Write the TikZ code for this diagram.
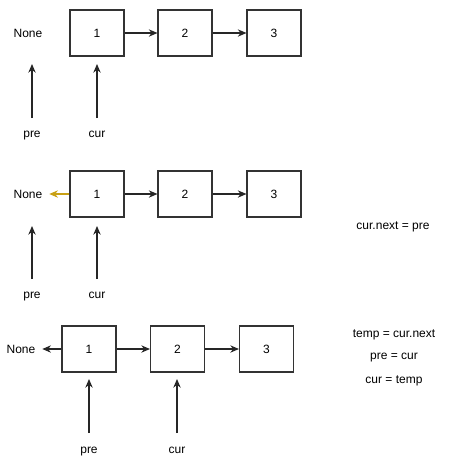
\documentclass[tikz,border=0pt]{standalone}
\usepackage{fontspec}
\setmainfont{Liberation Sans}
\usetikzlibrary{arrows.meta}
\definecolor{gold}{RGB}{200,160,20}
\begin{document}
\begin{tikzpicture}[x=0.75pt,y=-0.75pt,
  box/.style={draw=black!80,line width=0.8pt,minimum width=40.5pt,minimum height=34.5pt,inner sep=0pt,font=\fontsize{9}{11}\selectfont},
  lbl/.style={inner sep=0pt,text height=6.5pt,text depth=0pt,font=\fontsize{9}{11}\selectfont},
  arr/.style={-{Stealth[length=6.5pt,width=5.5pt]},line width=0.8pt,draw=black!85}]
\useasboundingbox (0,0) rectangle (470,462);
% row 1
\node[box] (a1) at (97,33) {1};
\node[box] (a2) at (185,33) {2};
\node[box] (a3) at (274,33) {3};
\node[lbl] (an) at (28,33) {None};
\node[lbl] (ap) at (32,133) {pre};
\node[lbl] (ac) at (97,133) {cur};
\coordinate (apt) at (32,64);
\coordinate (act) at (97,64);
\draw[arr] (a1) -- (a2);
\draw[arr] (a2) -- (a3);
\draw[arr] (32,118) -- (apt);
\draw[arr] (97,118) -- (act);
% row 2
\node[box] (b1) at (97,194) {1};
\node[box] (b2) at (185,194) {2};
\node[box] (b3) at (274,194) {3};
\node[lbl] (bn) at (28,194) {None};
\node[lbl] (bp) at (32,294) {pre};
\node[lbl] (bc) at (97,294) {cur};
\coordinate (bpt) at (32,226);
\coordinate (bct) at (97,226);
\draw[arr] (b1) -- (b2);
\draw[arr] (b2) -- (b3);
\draw[arr,draw=gold] (b1.west) -- ([xshift=5]bn.east);
\draw[arr] (32,279) -- (bpt);
\draw[arr] (97,279) -- (bct);
\node[lbl] (t1) at (393,225) {cur.next = pre};
% row 3
\node[box] (c1) at (89,349) {1};
\node[box] (c2) at (177.5,349) {2};
\node[box] (c3) at (266.5,349) {3};
\node[lbl] (cn) at (21,349) {None};
\node[lbl] (cp) at (89,449) {pre};
\node[lbl] (cc) at (177,449) {cur};
\coordinate (cpt) at (89,379);
\coordinate (cct) at (177,379);
\draw[arr] (c1) -- (c2);
\draw[arr] (c2) -- (c3);
\draw[arr] (c1.west) -- ([xshift=5]cn.east);
\draw[arr] (89,433) -- (cpt);
\draw[arr] (177,433) -- (cct);
\node[lbl] (t2) at (394,333) {temp = cur.next};
\node[lbl] (t3) at (394,355) {pre = cur};
\node[lbl] (t4) at (394,379) {cur = temp};
\end{tikzpicture}
\end{document}
